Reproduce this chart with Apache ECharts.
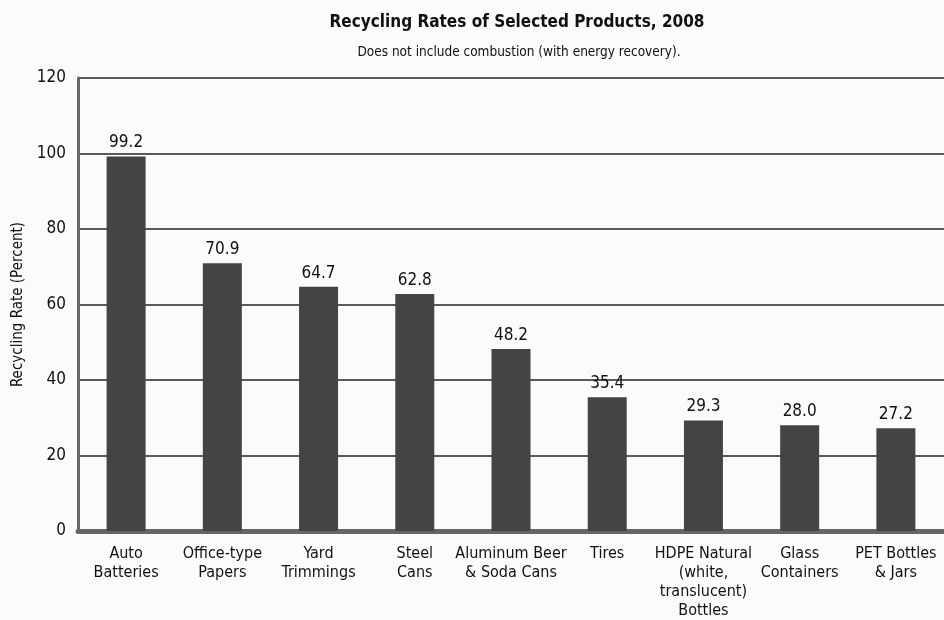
<!DOCTYPE html>
<html>
<head>
<meta charset="utf-8">
<script src="https://cdn.jsdelivr.net/npm/echarts@6/dist/echarts.min.js"></script>
<style>
  html, body { margin: 0; padding: 0; background: #fbfbfb; }
  #chart { width: 944px; height: 620px; }
</style>
</head>
<body>
<div id="chart"></div>
<script>
// Recycling rates by product, 2008 (percent)
const categories = [
  'Auto\nBatteries',
  'Office-type\nPapers',
  'Yard\nTrimmings',
  'Steel\nCans',
  'Aluminum Beer\n& Soda Cans',
  'Tires',
  'HDPE Natural\n(white,\ntranslucent)\nBottles',
  'Glass\nContainers',
  'PET Bottles\n& Jars'
];
const rates = [99.2, 70.9, 64.7, 62.8, 48.2, 35.4, 29.3, 28.0, 27.2];
const yTicks = { min: 0, max: 120, step: 20 };

const FONT = '"Liberation Sans Narrow", "DejaVu Sans Condensed", "Noto Sans", sans-serif';

const chart = echarts.init(document.getElementById('chart'), null, { renderer: 'canvas' });

chart.setOption({
  backgroundColor: '#fbfbfb',
  animation: false,
  title: [
    {
      text: 'Recycling Rates of Selected Products, 2008',
      left: 512, top: 9, textAlign: 'center',
      textStyle: { fontFamily: FONT, fontSize: 17, fontWeight: 'bold', color: '#111' }
    },
    {
      text: 'Does not include combustion (with energy recovery).',
      left: 514, top: 40, textAlign: 'center',
      textStyle: { fontFamily: FONT, fontSize: 13.5, fontWeight: 'normal', color: '#111' }
    }
  ],
  grid: { left: 78, top: 78, width: 873, height: 453, containLabel: false },
  xAxis: {
    type: 'category',
    data: categories,
    axisLine: { show: true, lineStyle: { color: '#666', width: 5 } },
    axisTick: { show: false },
    axisLabel: {
      interval: 0, margin: 13,
      fontFamily: FONT, fontSize: 16, lineHeight: 19, color: '#111', align: 'center'
    }
  },
  yAxis: {
    type: 'value',
    min: yTicks.min, max: yTicks.max, interval: yTicks.step,
    name: 'Recycling Rate (Percent)',
    nameLocation: 'middle',
    nameGap: 52,
    nameRotate: 90,
    nameTextStyle: { fontFamily: FONT, fontSize: 15, color: '#111' },
    axisLine: { show: true, lineStyle: { color: '#666', width: 3 } },
    axisTick: { show: false },
    axisLabel: { margin: 12, fontFamily: FONT, fontSize: 17, color: '#111' },
    splitLine: { show: true, lineStyle: { color: '#5a5a5a', width: 2 } }
  },
  series: [{
    type: 'bar',
    data: rates,
    barWidth: 39,
    itemStyle: { color: '#444444' },
    label: {
      show: true, position: 'top', distance: 5,
      fontFamily: FONT, fontSize: 17, color: '#111',
      formatter: p => p.value.toFixed(1)
    }
  }]
});
</script>
</body>
</html>
